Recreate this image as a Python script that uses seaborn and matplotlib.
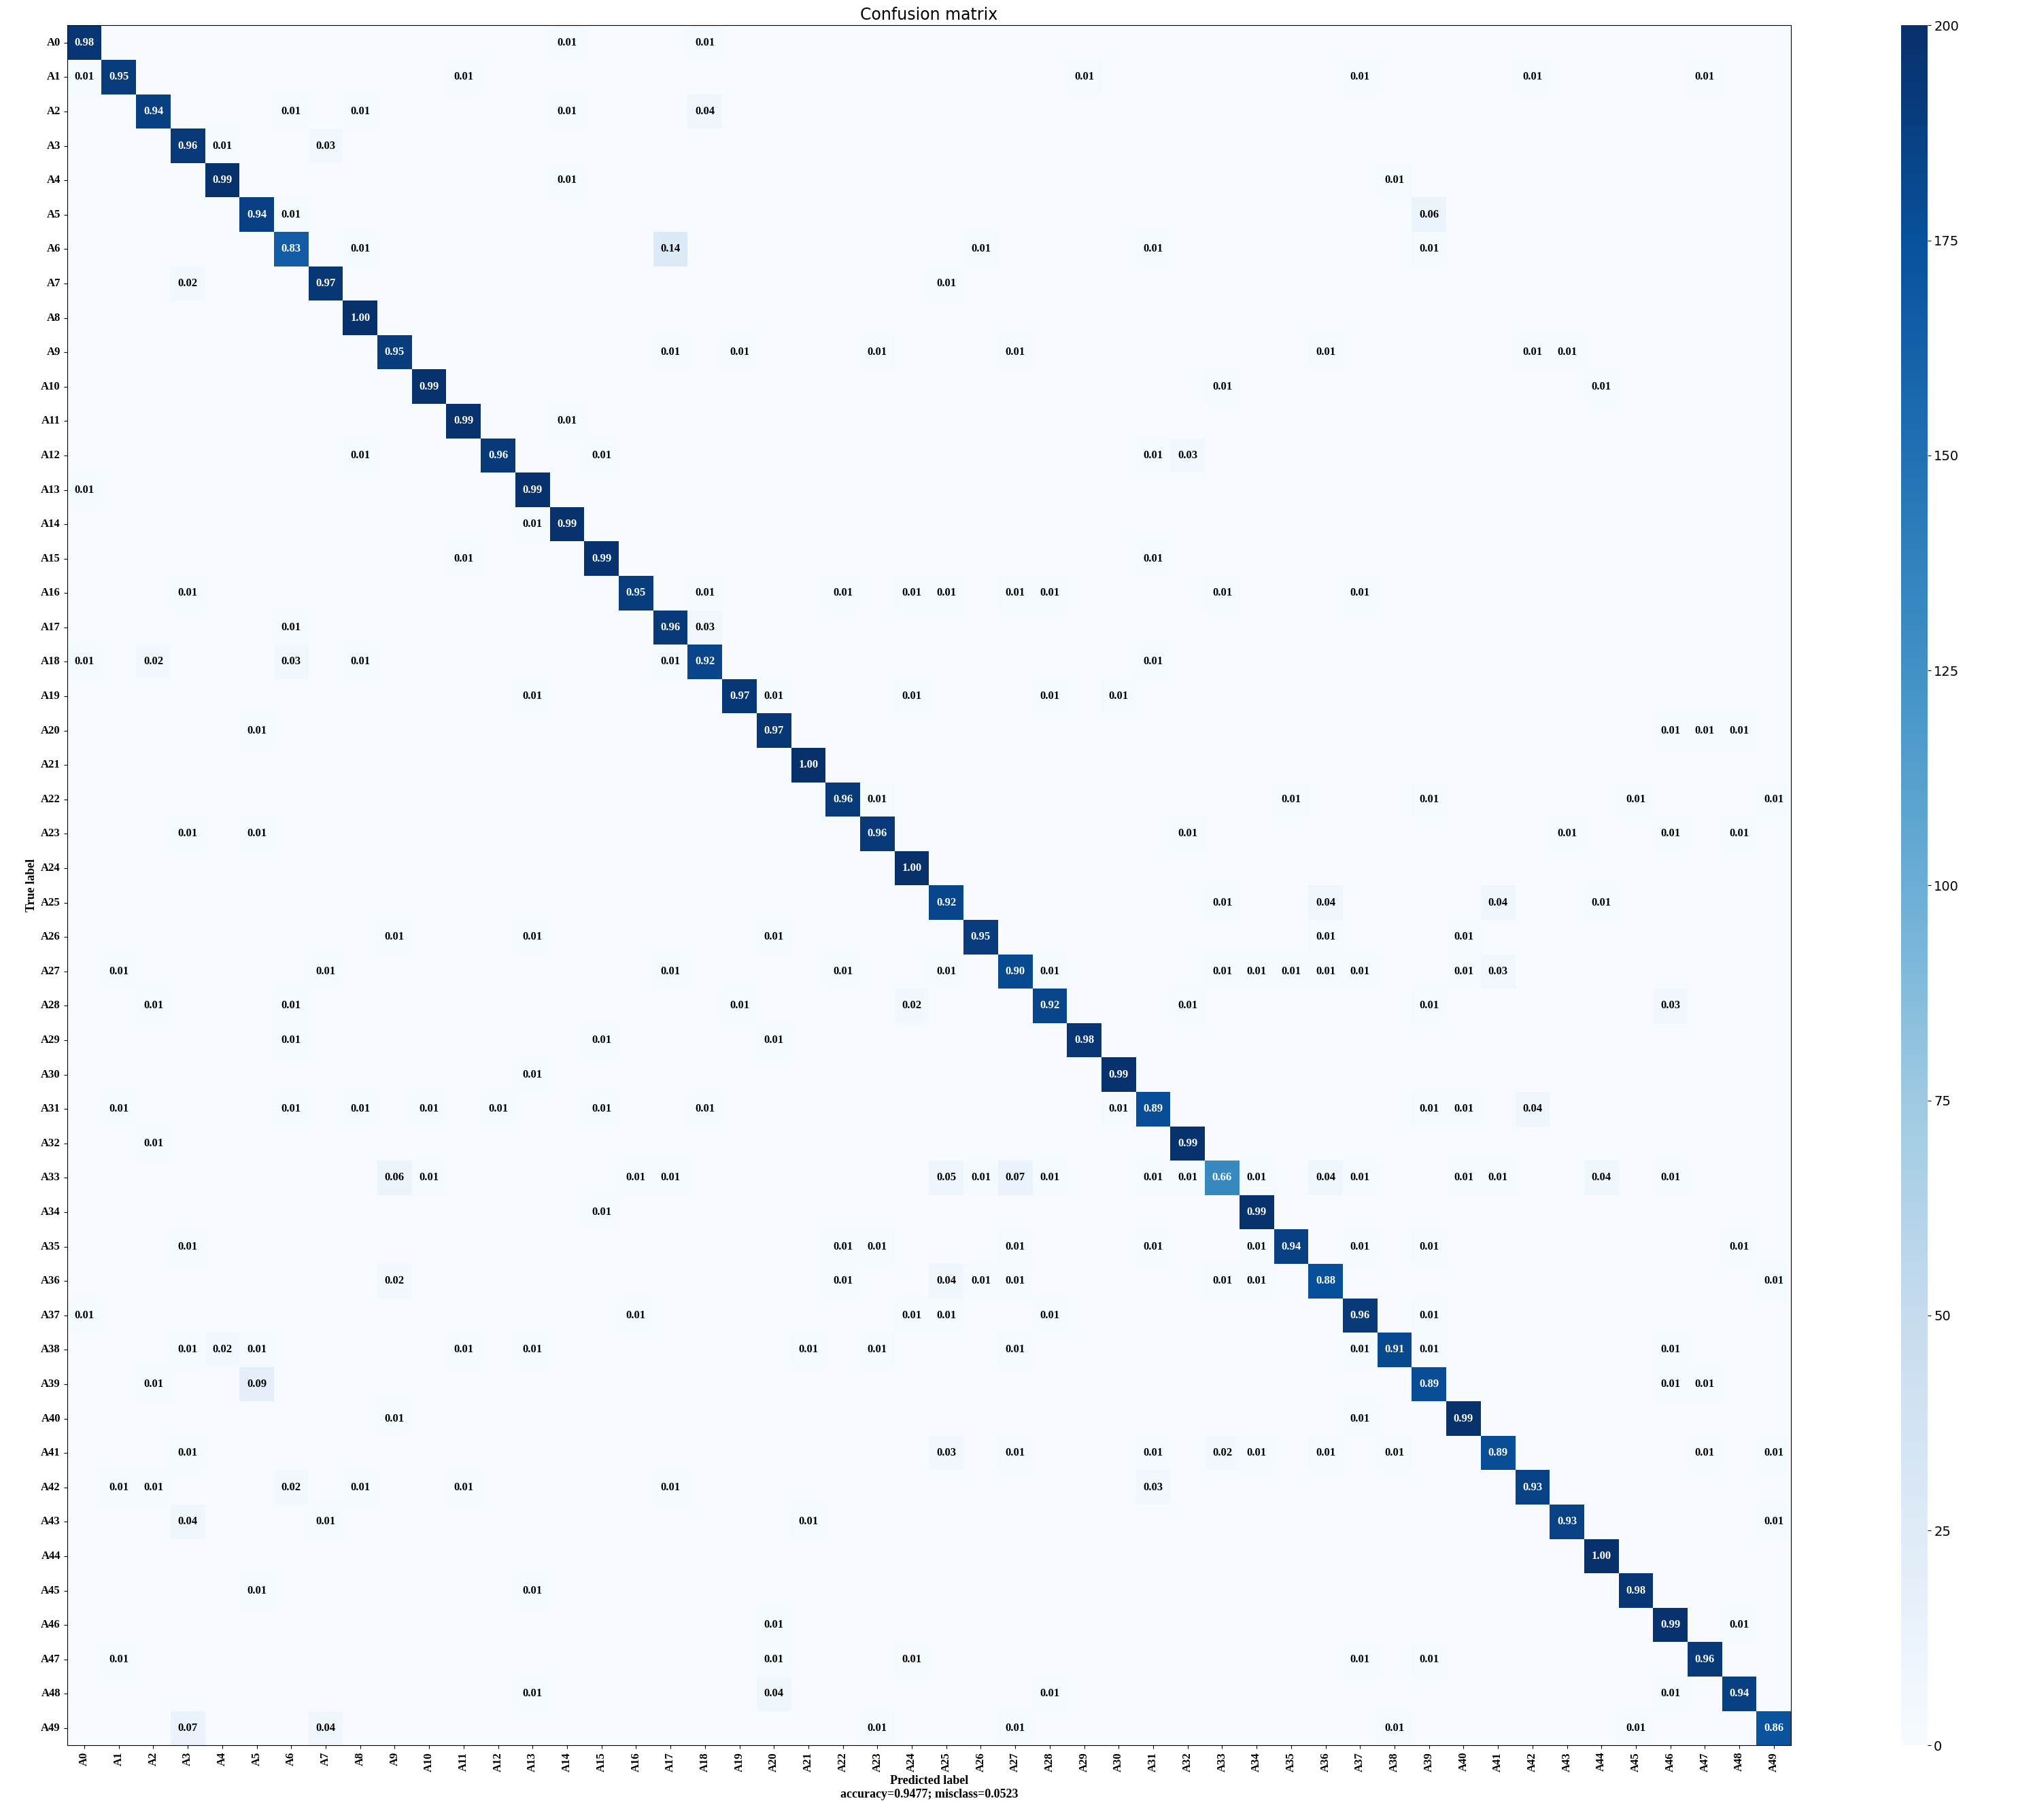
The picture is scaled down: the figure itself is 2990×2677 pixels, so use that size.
import numpy as np
import matplotlib
matplotlib.use("Agg")
import matplotlib.pyplot as plt
import seaborn as sns

labels = [f"A{i}" for i in range(50)]
diag = [0.98,0.95,0.94,0.96,0.99,0.94,0.83,0.97,1.00,0.95,0.99,0.99,0.96,0.99,0.99,0.99,0.95,0.96,0.92,0.97,
        0.97,1.00,0.96,0.96,1.00,0.92,0.95,0.90,0.92,0.98,0.99,0.89,0.99,0.66,0.99,0.94,0.88,0.96,0.91,0.89,
        0.99,0.89,0.93,0.93,1.00,0.98,0.99,0.96,0.94,0.86]
# off-diagonal entries per true row: {predicted column: fraction}
off = {
0:{14:.01,18:.01},
1:{0:.01,11:.01,29:.01,37:.01,42:.01,47:.01},
2:{6:.01,8:.01,14:.01,18:.04},
3:{4:.01,7:.03},
4:{14:.01,38:.01},
5:{6:.01,39:.06},
6:{8:.01,17:.14,26:.01,31:.01,39:.01},
7:{3:.02,25:.01},
9:{17:.01,19:.01,23:.01,27:.01,36:.01,42:.01,43:.01},
10:{33:.01,44:.01},
11:{14:.01},
12:{8:.01,15:.01,31:.01,32:.03},
13:{0:.01},
14:{13:.01},
15:{11:.01,31:.01},
16:{3:.01,18:.01,22:.01,24:.01,25:.01,27:.01,28:.01,33:.01,37:.01},
17:{6:.01,18:.03},
18:{0:.01,2:.02,6:.03,8:.01,17:.01,31:.01},
19:{13:.01,20:.01,24:.01,28:.01,30:.01},
20:{5:.01,46:.01,47:.01,48:.01},
22:{23:.01,35:.01,39:.01,45:.01,49:.01},
23:{3:.01,5:.01,32:.01,43:.01,46:.01,48:.01},
25:{33:.01,36:.04,41:.04,44:.01},
26:{9:.01,13:.01,20:.01,36:.01,40:.01},
27:{1:.01,7:.01,17:.01,22:.01,25:.01,28:.01,33:.01,34:.01,35:.01,36:.01,37:.01,40:.01,41:.03},
28:{2:.01,6:.01,19:.01,24:.02,32:.01,39:.01,46:.03},
29:{6:.01,15:.01,20:.01},
30:{13:.01},
31:{1:.01,6:.01,8:.01,10:.01,12:.01,15:.01,18:.01,30:.01,39:.01,40:.01,42:.04},
32:{2:.01},
33:{9:.06,10:.01,16:.01,17:.01,25:.05,26:.01,27:.07,28:.01,31:.01,32:.01,34:.01,36:.04,37:.01,40:.01,41:.01,44:.04,46:.01},
34:{15:.01},
35:{3:.01,22:.01,23:.01,27:.01,31:.01,34:.01,37:.01,39:.01,48:.01},
36:{9:.02,22:.01,25:.04,26:.01,27:.01,33:.01,34:.01,49:.01},
37:{0:.01,16:.01,24:.01,25:.01,28:.01,39:.01},
38:{3:.01,4:.02,5:.01,11:.01,13:.01,21:.01,23:.01,27:.01,37:.01,39:.01,46:.01},
39:{2:.01,5:.09,46:.01,47:.01},
40:{9:.01,37:.01},
41:{3:.01,25:.03,27:.01,31:.01,33:.02,34:.01,36:.01,38:.01,47:.01,49:.01},
42:{1:.01,2:.01,6:.02,8:.01,11:.01,17:.01,31:.03},
43:{3:.04,7:.01,21:.01,49:.01},
45:{5:.01,13:.01},
46:{20:.01,48:.01},
47:{1:.01,20:.01,24:.01,37:.01,39:.01},
48:{13:.01,20:.04,28:.01,46:.01},
49:{3:.07,7:.04,23:.01,27:.01,38:.01,45:.01},
}
n_per_class = 200

n = len(labels)
frac = np.zeros((n, n))
for i in range(n):
    frac[i, i] = diag[i]
    for j, v in off.get(i, {}).items():
        frac[i, j] = v
counts = np.round(frac * n_per_class)
annot = np.where(frac > 0, np.vectorize(lambda v: f"{v:.2f}")(frac), "")

fig = plt.figure(figsize=(29.9, 26.77), dpi=100)
ax = fig.add_axes([0.033, 0.041, 0.848, 0.945])
cax = fig.add_axes([0.935, 0.041, 0.013, 0.945])
sns.heatmap(counts, cmap="Blues", vmin=0, vmax=200, annot=annot, fmt="",
            annot_kws={"fontsize": 12, "fontfamily": "Liberation Serif", "fontweight": "bold"},
            cbar_ax=cax, ax=ax, square=False, xticklabels=labels, yticklabels=labels)
for t in ax.texts:
    r, c = None, None
# enforce threshold colouring like matplotlib version
k = 0
for i in range(n):
    for j in range(n):
        pass
for t in ax.texts:
    x, y = t.get_position()
    j, i = int(x), int(y)
    t.set_color("white" if counts[i, j] > 100 else "black")

ax.set_title("Confusion matrix", fontsize=17)
ax.set_ylabel("True label", fontsize=13, fontfamily="Liberation Serif", fontweight="bold")
ax.set_xlabel("Predicted label\naccuracy=0.9477; misclass=0.0523", fontsize=13,
              fontfamily="Liberation Serif", fontweight="bold")
for lab in ax.get_xticklabels() + ax.get_yticklabels():
    lab.set_fontfamily("Liberation Serif"); lab.set_fontweight("bold"); lab.set_fontsize(12)
plt.setp(ax.get_xticklabels(), rotation=90)
plt.setp(ax.get_yticklabels(), rotation=0)
for s in ax.spines.values():
    s.set_visible(True); s.set_color("black")
cax.set_yticks(range(0, 201, 25))
cax.tick_params(labelsize=14)
fig.savefig("out.png", dpi=100)
